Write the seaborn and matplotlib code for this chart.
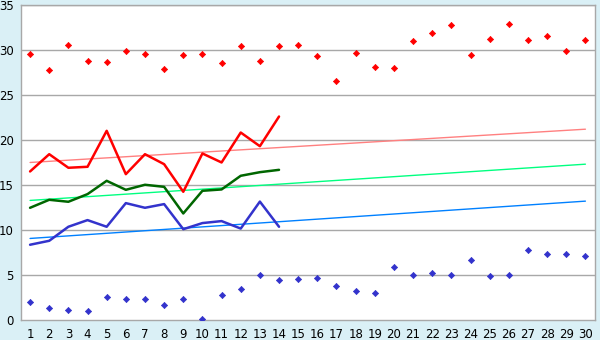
import numpy as np
import pandas as pd
import matplotlib
matplotlib.use("Agg")
import matplotlib.pyplot as plt
import seaborn as sns

days = list(range(1, 31))
max_pts = [29.63, 27.85, 30.63, 28.85, 28.74, 29.96, 29.63, 27.96, 29.52, 29.63,
           28.63, 30.52, 28.85, 30.52, 30.63, 29.41, 26.63, 29.74, 28.18, 28.07,
           31.07, 31.96, 32.85, 29.52, 31.30, 32.96, 31.19, 31.63, 29.96, 31.19]
min_pts = [2.04, 1.30, 1.15, 0.96, 2.52, 2.30, 2.30, 1.63, 2.30, 0.11,
           2.74, 3.41, 4.96, 4.41, 4.52, 4.63, 3.74, 3.19, 2.96, 5.85,
           4.96, 5.19, 4.96, 6.63, 4.85, 4.96, 7.74, 7.30, 7.30, 7.07]
line_days = list(range(1, 15))
red_line = [16.52, 18.44, 16.93, 17.04, 21.04, 16.22, 18.44, 17.33, 14.26, 18.52,
            17.52, 20.85, 19.33, 22.63]
green_line = [12.48, 13.37, 13.15, 14.00, 15.48, 14.48, 15.04, 14.81, 11.85, 14.37,
              14.52, 16.04, 16.44, 16.70]
blue_line = [8.37, 8.81, 10.37, 11.11, 10.37, 13.00, 12.48, 12.89, 10.10, 10.78,
             11.00, 10.17, 13.17, 10.37]
trend_days = [1, 30]
red_trend = [17.52, 21.22]
green_trend = [13.30, 17.33]
blue_trend = [9.07, 13.22]

sns.set_style("white")
plt.rcParams['font.family'] = ['DejaVu Sans']

bg = "#daf0f6"
fig = plt.figure(figsize=(6, 3.4), dpi=100, facecolor=bg)
ax = fig.add_axes([20.5/600, 1-320/340, (595-20.5)/600, (320-5.3)/340])
ax.set_facecolor("white")

grid_c = "#a8a8a8"
for v in range(5, 36, 5):
    ax.axhline(v, color=grid_c, lw=1.0, zorder=0)

trend_df = pd.DataFrame({"x": trend_days, "r": red_trend, "g": green_trend, "b": blue_trend})
sns.lineplot(data=trend_df, x="x", y="r", ax=ax, color="#ff8080", lw=1.0, zorder=2)
sns.lineplot(data=trend_df, x="x", y="g", ax=ax, color="#00ff80", lw=1.0, zorder=2)
sns.lineplot(data=trend_df, x="x", y="b", ax=ax, color="#0080ff", lw=1.0, zorder=2)

ldf = pd.DataFrame({"x": line_days, "r": red_line, "g": green_line, "b": blue_line})
sns.lineplot(data=ldf, x="x", y="r", ax=ax, color="#ff0000", lw=1.8, zorder=3)
sns.lineplot(data=ldf, x="x", y="g", ax=ax, color="#006600", lw=1.8, zorder=3)
sns.lineplot(data=ldf, x="x", y="b", ax=ax, color="#3333cc", lw=1.8, zorder=3)

pdf = pd.DataFrame({"x": days, "mx": max_pts, "mn": min_pts})
sns.scatterplot(data=pdf, x="x", y="mx", ax=ax, color="#ff0000", marker="D", s=10,
                edgecolor="#ff0000", linewidth=0.5, zorder=4)
sns.scatterplot(data=pdf, x="x", y="mn", ax=ax, color="#3333cc", marker="D", s=10,
                edgecolor="#3333cc", linewidth=0.5, zorder=4)

ax.set_xlim(0.5, 30.5)
ax.set_ylim(0, 35)
ax.set_xticks(days)
ax.set_xticklabels([str(d) for d in days])
ax.set_yticks(range(0, 36, 5))
ax.set_xlabel("")
ax.set_ylabel("")
for s in ["left", "right", "top", "bottom"]:
    ax.spines[s].set_color(grid_c)
    ax.spines[s].set_linewidth(1.0)
ax.tick_params(axis="both", which="both", direction="out", length=4, width=1,
               color="#000000", labelsize=8.5, labelcolor="black", pad=2)
ax.tick_params(axis="y", pad=1)
ax.grid(False)

fig.savefig("out.png", dpi=100, facecolor=bg)
